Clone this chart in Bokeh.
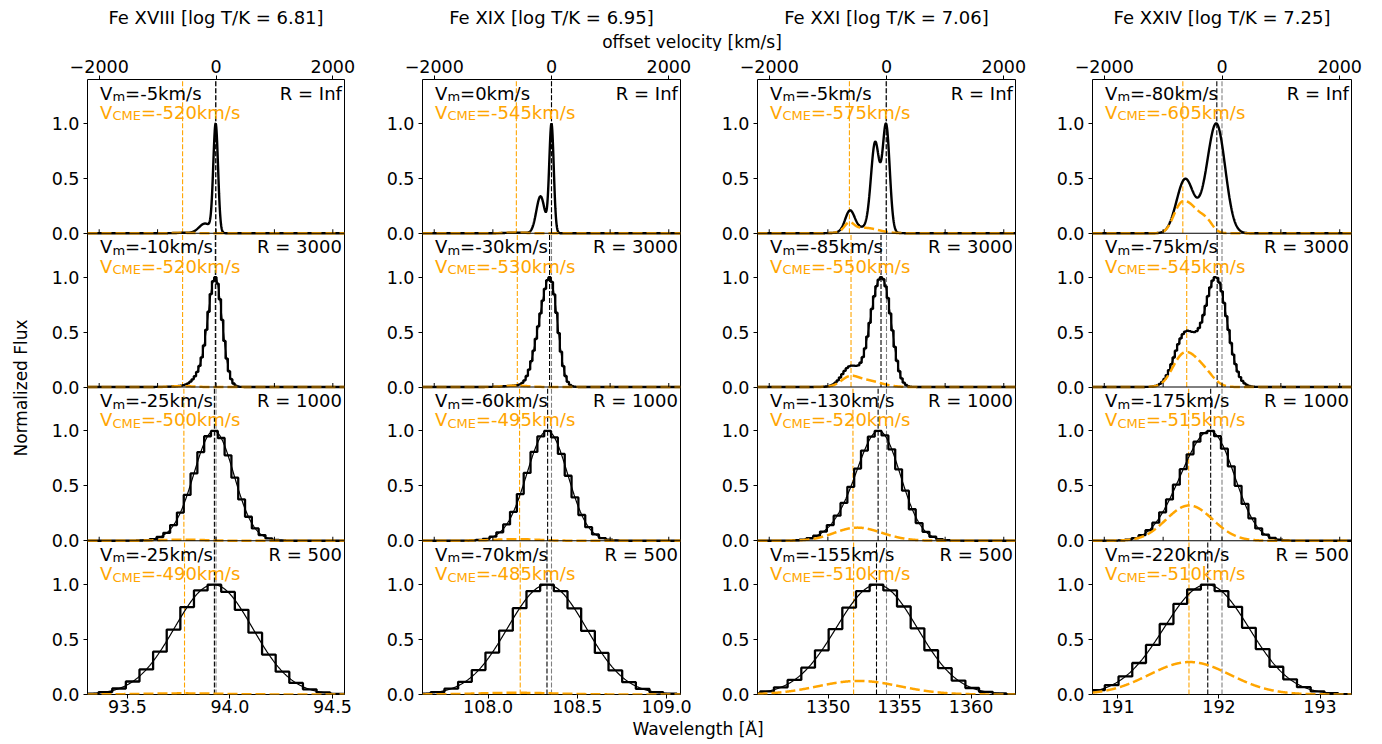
import numpy as np
from bokeh.plotting import figure
from bokeh.models import Range1d, LinearAxis, FixedTicker, Span
from bokeh.layouts import row, column
from bokeh.embed import file_html
from bokeh.resources import INLINE
from bokeh.core.properties import value

C_KMS = 299792.458
FONT = "DejaVu Sans"
ORANGE = "#ffa500"

# ---------------- data ----------------
ions = ["Fe XVIII", "Fe XIX", "Fe XXI", "Fe XXIV"]
log_t = ["6.81", "6.95", "7.06", "7.25"]
rest_wavelength = [93.932, 108.355, 1354.08, 192.03]
res_labels = ["Inf", "3000", "1000", "500"]
resolving_power = [None, 3000, 1000, 500]

# per column (ion), per row (resolution)
vm_values = [[-5, -10, -25, -25],
             [0, -30, -60, -70],
             [-5, -85, -130, -155],
             [-80, -75, -175, -220]]
vcme_values = [[-520, -520, -500, -490],
               [-545, -530, -495, -485],
               [-575, -550, -520, -510],
               [-605, -545, -515, -510]]

# intrinsic (R = Inf) line components: (amplitude, velocity km/s, sigma km/s)
line_components = [
    [(1.0, -5, 37), (0.09, -170, 95)],
    [(1.0, 0, 35), (0.34, -170, 65)],
    [(0.97, -5, 55), (0.80, -175, 65), (0.11, -560, 70)],
    [(0.96, -80, 132), (0.20, -560, 100)],
]
cme_components = [
    [(0.004, -520, 120)],
    [(0.006, -545, 150)],
    [(0.075, -580, 75), (0.05, -340, 210)],
    [(0.19, -660, 110), (0.21, -470, 130), (0.10, -240, 100)],
]

wl_ticks = [[93.5, 94.0, 94.5], [108.0, 108.5, 109.0], [1350, 1355, 1360], [191, 192, 193]]
wl_tick_labels = [["93.5", "94.0", "94.5"], ["108.0", "108.5", "109.0"],
                  ["1350", "1355", "1360"], ["191", "192", "193"]]
vel_ticks = [-2000, 0, 2000]
vel_tick_labels = ["\u22122000", "0", "2000"]
inner_vel_ticks = [-2000, -1000, 0, 1000, 2000]
flux_ticks = [0.0, 0.5, 1.0]
flux_tick_labels = ["0.0", "0.5", "1.0"]
panel_top = 1.4
vel_half_range = 2200
wl_half_range_kms = 2000

# ---------------- layout (pixels) ----------------
ylab_w = 37
col_frame_w = [257, 258, 258, 259]
col_border_l = [50, 66, 65, 65]
col_border_r = [12, 12, 12, 30]
frame_h = 615
border_t = 28
border_b = 26
header_h = 51
footer_h = 23
total_w = ylab_w + sum(col_border_l) + sum(col_frame_w) + sum(col_border_r)
body_h = border_t + frame_h + border_b
n_rows = len(res_labels)

ADV = {"V": 0.684, "m": 0.974, "C": 0.698, "M": 0.863, "E": 0.632}
BASE_FIX = 0.34  # em: lift applied so that the alphabetic baseline lands where intended


def adv(s, size):
    return sum(ADV[ch] for ch in s) * size


def gauss_sum(comps, v, sig_inst):
    out = np.zeros_like(v, dtype=float)
    for a, v0, s in comps:
        st = np.hypot(s, sig_inst)
        out += a * s / st * np.exp(-0.5 * ((v - v0) / st) ** 2)
    return out


def put_text(p, x, y, s, size, color="black", align="left", angle=0.0):
    p.text(x=[x], y=[y], text=[s], text_font=value(FONT), text_font_size=f"{size}px",
           text_color=color, text_align=align, text_baseline="alphabetic", angle=angle)


def style_axis(ax):
    ax.major_label_text_font = FONT
    ax.major_label_text_font_size = "17.5px"
    ax.major_label_text_color = "black"
    ax.axis_line_color = None
    ax.major_tick_line_color = "black"
    ax.major_tick_line_width = 1
    ax.minor_tick_line_color = None
    ax.major_tick_in = 0
    ax.major_tick_out = 4


def blank_fig(w, h):
    p = figure(width=w, height=h, x_range=Range1d(0, w), y_range=Range1d(h, 0),
               output_backend="svg", toolbar_location=None, x_axis_location=None,
               y_axis_location=None, min_border=0, outline_line_color=None)
    p.grid.visible = False
    return p


v_grid = np.arange(-2000.0, 2000.0 + 1, 4.0)

col_figs = []
for c in range(4):
    lam0 = rest_wavelength[c]
    xmin = lam0 * (1 - wl_half_range_kms / C_KMS)
    xmax = lam0 * (1 + wl_half_range_kms / C_KMS)
    W = col_border_l[c] + col_frame_w[c] + col_border_r[c]
    px_x = col_frame_w[c] / (xmax - xmin)
    px_y = frame_h / (n_rows * panel_top)
    p = figure(width=W, height=body_h, x_range=Range1d(xmin, xmax),
               y_range=Range1d(0, n_rows * panel_top),
               output_backend="svg", toolbar_location=None, x_axis_location=None,
               y_axis_location="left",
               min_border_left=col_border_l[c], min_border_right=col_border_r[c],
               min_border_top=border_t, min_border_bottom=border_b,
               outline_line_color="black", outline_line_width=1,
               background_fill_color="white", border_fill_color="white")
    p.grid.visible = False
    p.extra_x_ranges = {"vel": Range1d(-vel_half_range, vel_half_range)}

    # left flux axis: 0.0 / 0.5 / 1.0 repeated for every stacked panel
    yticks, ylabels = [], {}
    for r in range(n_rows):
        off = (n_rows - 1 - r) * panel_top
        for t, lab in zip(flux_ticks, flux_tick_labels):
            yv = round(off + t, 6)
            yticks.append(yv)
            ylabels[yv] = lab
    yax = p.yaxis[0]
    yax.ticker = FixedTicker(ticks=yticks)
    yax.major_label_overrides = ylabels
    style_axis(yax)
    yax.major_label_standoff = 4

    top = LinearAxis(x_range_name="vel", ticker=FixedTicker(ticks=vel_ticks),
                     major_label_overrides=dict(zip(vel_ticks, vel_tick_labels)))
    style_axis(top)
    top.major_label_standoff = 3
    p.add_layout(top, "above")

    bot = LinearAxis(ticker=FixedTicker(ticks=wl_ticks[c]),
                     major_label_overrides=dict(zip(wl_ticks[c], wl_tick_labels[c])))
    style_axis(bot)
    bot.major_label_standoff = 1
    p.add_layout(bot, "below")

    for r in range(n_rows):
        off = (n_rows - 1 - r) * panel_top
        vm = vm_values[c][r]
        vcme = vcme_values[c][r]
        R = resolving_power[r]
        sig_inst = 0.0 if R is None else C_KMS / R
        comps_all = line_components[c] + cme_components[c]
        lam = lam0 * (1 + v_grid / C_KMS)
        tot = gauss_sum(comps_all, v_grid, sig_inst)
        cme = gauss_sum(cme_components[c], v_grid, sig_inst)
        norm = tot.max()

        if r > 0:
            # separator between stacked panels, with the velocity ticks pointing up
            p.add_layout(Span(location=off + panel_top, dimension="width",
                              line_color="black", line_width=1))
            n = len(inner_vel_ticks)
            p.segment(x0=inner_vel_ticks, y0=[off + panel_top] * n, x1=inner_vel_ticks,
                      y1=[off + panel_top + 4.0 / px_y] * n, x_range_name="vel",
                      line_color="black", line_width=1)

        # vertical reference lines: rest, measured centroid, CME
        line_x = [lam0, lam0 * (1 + vm / C_KMS), lam0 * (1 + vcme / C_KMS)]
        p.segment(x0=line_x, y0=[off] * 3, x1=line_x, y1=[off + panel_top] * 3,
                  line_color=["gray", "black", ORANGE], line_dash="5 2", line_width=1.1)

        if R is None:
            p.line(lam, off + tot / norm, line_color="black", line_width=2.4)
        else:
            bw = sig_inst / (2 * np.sqrt(2))
            k = np.arange(np.floor((-2000 - vm) / bw) - 2, np.ceil((2000 - vm) / bw) + 3)
            vb = vm + k * bw
            sb = gauss_sum(comps_all, vb, sig_inst)
            p.step(lam0 * (1 + vb / C_KMS), off + sb / sb.max(), mode="center",
                   line_color="black", line_width=2.3)
            p.line(lam, off + tot / norm, line_color="black", line_width=1.2)
        p.line(lam, off + cme / norm, line_color=ORANGE, line_width=2.5, line_dash="10 4")

        # panel texts (subscripts dropped below the baseline)
        fix18 = BASE_FIX * 18 / px_y
        x0 = xmin + 12.6 / px_x
        y1 = off + panel_top - 19.7 / px_y + fix18
        y2 = off + panel_top - 39.0 / px_y + fix18
        drop = 3.5 / px_y
        put_text(p, x0, y1, "V", 18)
        put_text(p, x0 + adv("V", 18) / px_x, y1 - drop, "m", 13)
        put_text(p, x0 + (adv("V", 18) + adv("m", 13)) / px_x, y1, f"={vm}km/s", 18)
        put_text(p, x0, y2, "V", 18, ORANGE)
        put_text(p, x0 + adv("V", 18) / px_x, y2 - drop, "CME", 13, ORANGE)
        put_text(p, x0 + (adv("V", 18) + adv("CME", 13)) / px_x, y2, f"={vcme}km/s", 18, ORANGE)
        put_text(p, xmax - 2.6 / px_x, y1, f"R = {res_labels[r]}", 18, align="right")
    col_figs.append(p)

# y label figure
ylab = blank_fig(ylab_w, body_h)
put_text(ylab, 26.5 - BASE_FIX * 17, border_t + frame_h / 2, "Normalized Flux", 17,
         align="center", angle=np.pi / 2)

# header with column titles and the velocity axis label
header = blank_fig(total_w, header_h)
left = ylab_w
for c in range(4):
    centre = left + col_border_l[c] + col_frame_w[c] / 2
    put_text(header, centre, 22.7 - BASE_FIX * 18, f"{ions[c]} [log T/K = {log_t[c]}]", 18,
             align="center")
    left += col_border_l[c] + col_frame_w[c] + col_border_r[c]
put_text(header, 691.5, 47.0 - BASE_FIX * 17, "offset velocity [km/s]", 17, align="center")

footer = blank_fig(total_w, footer_h)
put_text(footer, 697.5, 14.0 - BASE_FIX * 17, "Wavelength [\u00c5]", 17, align="center")

layout = column(header, row(ylab, *col_figs), footer)
open("out.html", "w").write(file_html(layout, INLINE))
